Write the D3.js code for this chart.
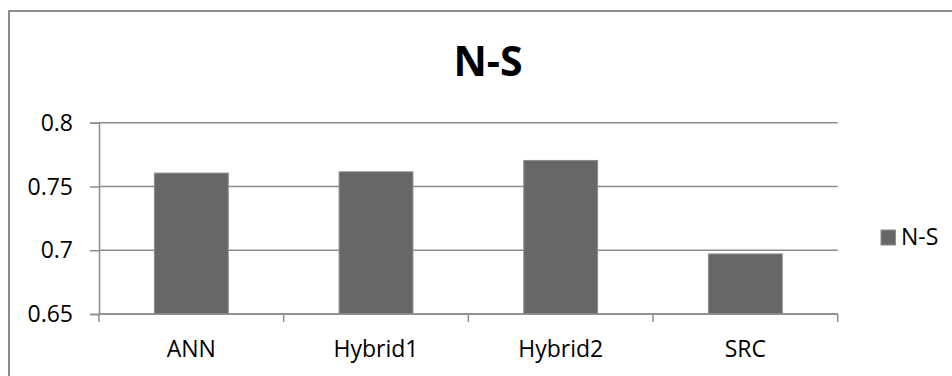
<!DOCTYPE html>
<html>
<head>
<meta charset="utf-8">
<script src="https://cdn.jsdelivr.net/npm/d3@7"></script>
<style>
  html, body { margin: 0; padding: 0; background: #fff; }
  svg { display: block; }
  text { font-family: "Open Sans", "Noto Sans", sans-serif; fill: #000; }
</style>
</head>
<body>
<svg id="chart" width="952" height="376"></svg>
<script>
// N-S values per model
const categories = ["ANN", "Hybrid1", "Hybrid2", "SRC"];
const nsValues = [0.7605, 0.7615, 0.7704, 0.6971];
const yTicks = [0.65, 0.7, 0.75, 0.8];
const yTickLabels = ["0.65", "0.7", "0.75", "0.8"];
const seriesName = "N-S";
const chartTitle = "N-S";

const svg = d3.select("#chart");
const W = 952, H = 376;
const plot = { left: 99, right: 837.7, top: 122.7, bottom: 314 };

const gridColor = "#8c8c8c";
const barColor = "#676767";
const labelSize = 23;

// outer chart frame
svg.append("rect")
  .attr("x", 9).attr("y", 11)
  .attr("width", W + 20).attr("height", H + 20)
  .attr("fill", "#fff")
  .attr("stroke", gridColor).attr("stroke-width", 2);

const x = d3.scaleBand().domain(categories).range([plot.left, plot.right]).padding(0);
const y = d3.scaleLinear().domain([0.65, 0.8]).range([plot.bottom, plot.top]);

// horizontal gridlines
svg.append("g")
  .selectAll("line")
  .data(yTicks)
  .join("line")
  .attr("x1", plot.left).attr("x2", plot.right)
  .attr("y1", d => y(d)).attr("y2", d => y(d))
  .attr("stroke", gridColor).attr("stroke-width", 1.5);

// y axis
const yAxis = d3.axisLeft(y)
  .tickValues(yTicks)
  .tickFormat((d, i) => yTickLabels[i])
  .tickSize(9)
  .tickPadding(17);
const gy = svg.append("g").attr("transform", `translate(${plot.left},0)`).call(yAxis);
gy.select(".domain").attr("stroke", gridColor).attr("stroke-width", 1.5);
gy.selectAll(".tick line").attr("stroke", gridColor).attr("stroke-width", 1.5);
gy.selectAll(".tick text")
  .attr("font-size", labelSize)
  .attr("font-family", "'Open Sans', sans-serif")
  .attr("fill", "#000")
  .attr("dy", "0.33em");

// bars
const barW = x.bandwidth() * 0.4;
svg.append("g")
  .selectAll("rect")
  .data(categories.map((c, i) => ({ c, v: nsValues[i] })))
  .join("rect")
  .attr("x", d => x(d.c) + (x.bandwidth() - barW) / 2)
  .attr("y", d => y(d.v))
  .attr("width", barW)
  .attr("height", d => y(0.65) - y(d.v))
  .attr("fill", barColor)
  .attr("stroke", "#8e8e8e").attr("stroke-width", 1);

// x axis: baseline, boundary ticks and category labels
const gx = svg.append("g");
gx.append("line")
  .attr("x1", plot.left).attr("x2", plot.right)
  .attr("y1", plot.bottom).attr("y2", plot.bottom)
  .attr("stroke", gridColor).attr("stroke-width", 1.5);
const boundaries = categories.map(c => x(c)).concat([x(categories[categories.length - 1]) + x.bandwidth()]);
gx.selectAll("line.tk")
  .data(boundaries)
  .join("line")
  .attr("class", "tk")
  .attr("x1", d => d).attr("x2", d => d)
  .attr("y1", plot.bottom).attr("y2", plot.bottom + 8)
  .attr("stroke", gridColor).attr("stroke-width", 1.5);
gx.selectAll("text")
  .data(categories)
  .join("text")
  .attr("x", d => x(d) + x.bandwidth() / 2)
  .attr("y", 356.5)
  .attr("text-anchor", "middle")
  .attr("font-size", labelSize)
  .text(d => d);

// title
svg.append("text")
  .attr("x", 488).attr("y", 76)
  .attr("text-anchor", "middle")
  .attr("font-size", 41)
  .attr("font-weight", "bold")
  .text(chartTitle);

// legend
const lg = svg.append("g");
lg.append("rect")
  .attr("x", 881).attr("y", 230)
  .attr("width", 14.5).attr("height", 15)
  .attr("fill", barColor)
  .attr("stroke", "#8e8e8e").attr("stroke-width", 1);
lg.append("text")
  .attr("x", 901).attr("y", 245)
  .attr("font-size", labelSize)
  .text(seriesName);
</script>
</body>
</html>
